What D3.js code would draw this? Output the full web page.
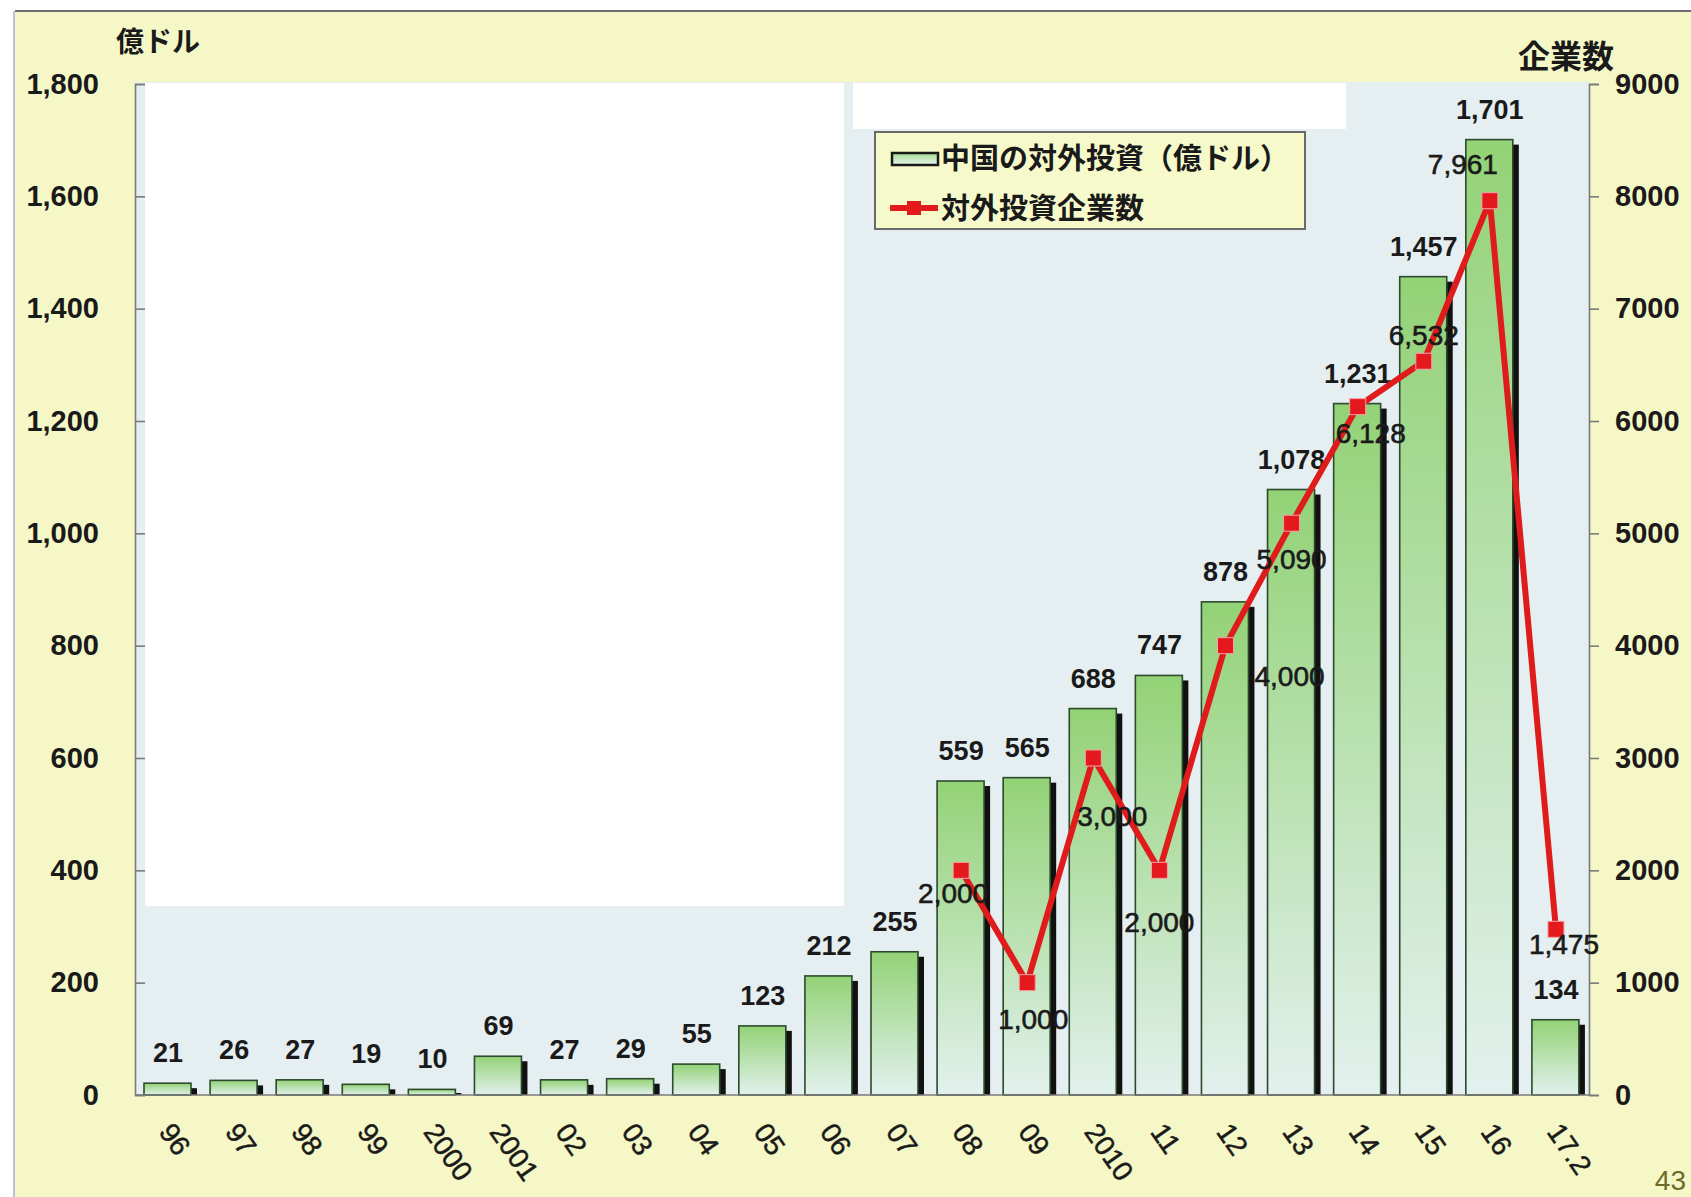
<!DOCTYPE html>
<html>
<head>
<meta charset="utf-8">
<script src="https://cdn.jsdelivr.net/npm/d3@7"></script>
<style>
  html, body { margin: 0; padding: 0; background: #ffffff; }
  svg { display: block; }
</style>
</head>
<body>
<svg id="chart" width="1691" height="1197"></svg>
<script>
// Years on the horizontal axis
const years = ["96","97","98","99","2000","2001","02","03","04","05","06","07","08","09","2010","11","12","13","14","15","16","17.2"];
// China's outward investment, 100 million USD
const investment = [21,26,27,19,10,69,27,29,55,123,212,255,559,565,688,747,878,1078,1231,1457,1701,134];
// Number of companies investing abroad (from 2008)
const firmYears = ["08","09","2010","11","12","13","14","15","16","17.2"];
const firms = [2000,1000,3000,2000,4000,5090,6128,6532,7961,1475];
// Axis ticks
const leftTicks = [0,200,400,600,800,1000,1200,1400,1600,1800];
const rightTicks = [0,1000,2000,3000,4000,5000,6000,7000,8000,9000];
// Legend entries
const legendLabels = ["中国の対外投資（億ドル）", "対外投資企業数"];

// Placement of the company-count labels relative to their markers (dx, dy)
const firmLabelShift = [[-8,23],[6,36],[19,58],[0,52],[64,30],[0,36],[13,26],[0,-26],[-27,-37],[8,15]];

const svg = d3.select("#chart");
const W = 1691, H = 1197;
const plot = { left: 135, right: 1589, top: 84, bottom: 1095 };
const latin = "'Liberation Sans', Arial, sans-serif";
const cjk = "'Noto Sans CJK JP', 'Noto Sans', sans-serif";

const defs = svg.append("defs");
const barGrad = defs.append("linearGradient").attr("id", "barGrad")
  .attr("x1", 0).attr("y1", 0).attr("x2", 0).attr("y2", 1);
barGrad.append("stop").attr("offset", "0%").attr("stop-color", "#93d276");
barGrad.append("stop").attr("offset", "100%").attr("stop-color", "#e2f1ee");
const legGrad = defs.append("linearGradient").attr("id", "legGrad")
  .attr("x1", 0).attr("y1", 0).attr("x2", 0).attr("y2", 1);
legGrad.append("stop").attr("offset", "0%").attr("stop-color", "#a9dc92");
legGrad.append("stop").attr("offset", "100%").attr("stop-color", "#e4f3ec");

// Slide panel
svg.append("rect").attr("x", 15).attr("y", 11).attr("width", W - 15).attr("height", H - 11)
  .attr("fill", "#f5f8c6");
svg.append("line").attr("x1", 15).attr("x2", W).attr("y1", 11).attr("y2", 11)
  .attr("stroke", "#6e6e6e").attr("stroke-width", 2);
svg.append("line").attr("x1", 14).attr("x2", 14).attr("y1", 11).attr("y2", H)
  .attr("stroke", "#b9c6d2").attr("stroke-width", 2);

// Plot background
svg.append("rect").attr("x", plot.left).attr("y", 82)
  .attr("width", plot.right - plot.left).attr("height", plot.bottom - 82)
  .attr("fill", "#e5eef0");

// Blank panels
svg.append("rect").attr("x", 145).attr("y", 83).attr("width", 699).attr("height", 823).attr("fill", "#ffffff");
svg.append("rect").attr("x", 853).attr("y", 83).attr("width", 493).attr("height", 46).attr("fill", "#ffffff");

const x = d3.scaleBand().domain(years).range([plot.left, plot.right]).paddingInner(0).paddingOuter(0);
const yL = d3.scaleLinear().domain([0, 1800]).range([plot.bottom, plot.top]);
const yR = d3.scaleLinear().domain([0, 9000]).range([plot.bottom, plot.top]);
const fmt = d3.format(",");

const barOffset = 9, barW = 47, shadowW = 7;

// Bars with a dark drop shadow on the right
const barG = svg.append("g");
const rows = years.map((yr, i) => ({ yr, v: investment[i] }));
barG.selectAll("rect.shadow").data(rows).join("rect")
  .attr("class", "shadow")
  .attr("x", d => x(d.yr) + barOffset + barW - 1)
  .attr("y", d => Math.min(yL(d.v) + 5, plot.bottom - 2))
  .attr("width", shadowW)
  .attr("height", d => plot.bottom - Math.min(yL(d.v) + 5, plot.bottom - 2))
  .attr("fill", "#111");
barG.selectAll("rect.bar").data(rows).join("rect")
  .attr("class", "bar")
  .attr("x", d => x(d.yr) + barOffset)
  .attr("y", d => yL(d.v))
  .attr("width", barW)
  .attr("height", d => plot.bottom - yL(d.v))
  .attr("fill", "url(#barGrad)")
  .attr("stroke", "#2c4a2c").attr("stroke-width", 1.6);

// Bar value labels
svg.append("g").selectAll("text").data(rows).join("text")
  .attr("x", d => x(d.yr) + x.bandwidth() / 2)
  .attr("y", d => yL(d.v) - 21)
  .attr("text-anchor", "middle")
  .attr("font-family", latin).attr("font-weight", "bold").attr("font-size", 27)
  .attr("fill", "#1a1a1a")
  .text(d => fmt(d.v));

// Axes
const axisL = svg.append("g").attr("transform", `translate(${plot.left},0)`)
  .call(d3.axisLeft(yL).tickValues(leftTicks).tickSize(-10).tickPadding(36).tickFormat(fmt));
const axisR = svg.append("g").attr("transform", `translate(${plot.right},0)`)
  .call(d3.axisRight(yR).tickValues(rightTicks).tickSize(10).tickPadding(16).tickFormat(d3.format("d")));
[axisL, axisR].forEach(a => {
  a.select(".domain").attr("stroke", "#7a7a7a").attr("stroke-width", 1.6);
  a.selectAll(".tick line").attr("stroke", "#7a7a7a").attr("stroke-width", 1.6);
  a.selectAll(".tick text").attr("font-family", latin).attr("font-weight", "bold")
    .attr("font-size", 29).attr("fill", "#1a1a1a");
});
svg.append("line").attr("x1", plot.left).attr("x2", plot.right)
  .attr("y1", plot.bottom).attr("y2", plot.bottom)
  .attr("stroke", "#7a7a7a").attr("stroke-width", 1.6);

// Rotated year labels
svg.append("g").selectAll("text").data(years).join("text")
  .attr("transform", d => `translate(${x(d) + x.bandwidth() / 2 - 10},1132) rotate(55)`)
  .attr("font-family", latin).attr("font-size", 28).attr("fill", "#1a1a1a")
  .attr("stroke", "#1a1a1a").attr("stroke-width", 0.5)
  .text(d => d);

// Company count line
const pts = firmYears.map((yr, i) => ({ yr, v: firms[i], s: firmLabelShift[i] }));
const cx = d => x(d.yr) + x.bandwidth() / 2;
svg.append("path").datum(pts)
  .attr("d", d3.line().x(cx).y(d => yR(d.v)))
  .attr("fill", "none").attr("stroke", "#e01b1b").attr("stroke-width", 6)
  .attr("stroke-linejoin", "miter");
svg.append("g").selectAll("rect").data(pts).join("rect")
  .attr("x", d => cx(d) - 8).attr("y", d => yR(d.v) - 8)
  .attr("width", 16).attr("height", 16)
  .attr("fill", "#e3191e").attr("stroke", "#f3a6a6").attr("stroke-width", 1);
svg.append("g").selectAll("text").data(pts).join("text")
  .attr("x", d => cx(d) + d.s[0])
  .attr("y", d => yR(d.v) + d.s[1])
  .attr("dy", "0.36em")
  .attr("text-anchor", "middle")
  .attr("font-family", latin).attr("font-size", 28).attr("fill", "#1a1a1a")
  .attr("stroke", "#1a1a1a").attr("stroke-width", 0.6)
  .text(d => fmt(d.v));

// Axis titles
svg.append("text").attr("x", 116).attr("y", 52)
  .attr("font-family", cjk).attr("font-weight", "bold").attr("font-size", 28)
  .attr("fill", "#1a1a1a").text("億ドル");
svg.append("text").attr("x", 1518).attr("y", 68)
  .attr("font-family", cjk).attr("font-weight", "bold").attr("font-size", 32)
  .attr("fill", "#1a1a1a").text("企業数");

// Legend
const leg = svg.append("g").attr("transform", "translate(875,132)");
leg.append("rect").attr("width", 430).attr("height", 97)
  .attr("fill", "#f6f9c9").attr("stroke", "#6a6a6a").attr("stroke-width", 2);
leg.append("rect").attr("x", 17).attr("y", 21).attr("width", 46).attr("height", 12)
  .attr("fill", "url(#legGrad)").attr("stroke", "#1a1a1a").attr("stroke-width", 2.5);
leg.append("line").attr("x1", 15).attr("x2", 63).attr("y1", 76).attr("y2", 76)
  .attr("stroke", "#e01b1b").attr("stroke-width", 6);
leg.append("rect").attr("x", 32).attr("y", 69).attr("width", 14).attr("height", 14)
  .attr("fill", "#e3191e");
leg.selectAll("text.lab").data(legendLabels).join("text")
  .attr("class", "lab")
  .attr("x", 66).attr("y", (d, i) => 27 + i * 50)
  .attr("dy", "0.36em")
  .attr("font-family", cjk).attr("font-weight", "bold").attr("font-size", 29)
  .attr("fill", "#1a1a1a").text(d => d);

// Page number
svg.append("text").attr("x", 1686).attr("y", 1190).attr("text-anchor", "end")
  .attr("font-family", "'Liberation Sans Narrow', 'Liberation Sans', sans-serif")
  .attr("font-size", 28).attr("fill", "#6f6a2a").text("43");
</script>
</body>
</html>
